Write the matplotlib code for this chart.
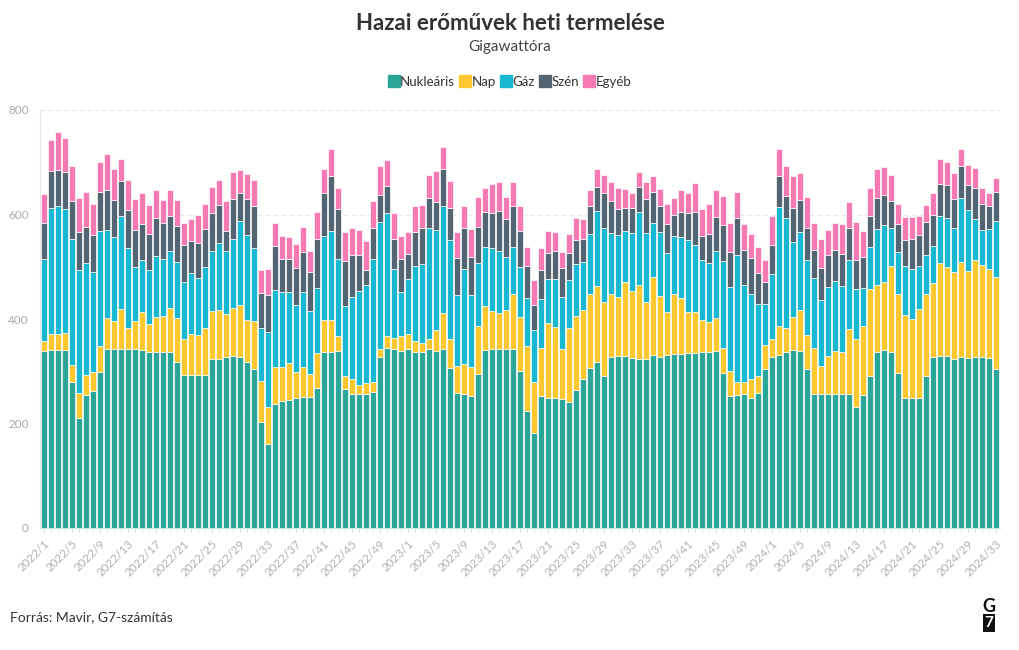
import matplotlib.pyplot as plt
from matplotlib.lines import Line2D
import numpy as np

# Heti adatok, GWh (2022/1 - 2024/33)
het = [f"2022/{w}" for w in range(1, 53)] + [f"2023/{w}" for w in range(1, 53)] + [f"2024/{w}" for w in range(1, 34)]

nuklearis = [339, 341, 341, 341, 279, 211, 255, 263, 298, 342, 342, 342, 342, 342, 340, 337, 337, 337, 336, 318,
             293, 293, 292, 292, 324, 324, 327, 330, 327, 318, 304, 202, 160, 238, 244, 245, 248, 251, 251, 268,
             337, 337, 339, 266, 256, 256, 256, 260, 328, 344, 342, 339,
             342, 336, 337, 343, 339, 342, 307, 258, 256, 253, 294, 340, 342, 342, 342, 342, 301, 223,
             182, 252, 248, 249, 246, 242, 264, 286, 307, 318, 290, 327, 329, 330, 325, 324, 324, 332, 328, 331,
             333, 333, 335, 335, 336, 337, 339, 297, 253, 255, 256, 249, 258, 304,
             328, 332, 337, 340, 339, 305, 256, 256, 256, 256, 256, 256, 231, 255, 290, 337, 341, 336, 297, 249,
             249, 248, 290, 328, 330, 329, 323, 327, 326, 327, 328, 325, 304]
nap = [18, 30, 30, 32, 33, 47, 38, 36, 51, 59, 55, 78, 40, 54, 73, 53, 66, 69, 86, 84,
       69, 78, 77, 91, 91, 94, 82, 92, 99, 81, 92, 80, 71, 70, 64, 70, 50, 58, 43, 66,
       61, 62, 28, 24, 30, 18, 21, 20, 14, 23, 21, 28,
       29, 22, 17, 19, 40, 69, 55, 53, 58, 56, 93, 84, 73, 70, 75, 105, 102, 125,
       97, 92, 145, 136, 97, 140, 141, 131, 141, 146, 142, 120, 114, 140, 128, 142, 108, 149, 116, 83,
       114, 108, 79, 78, 63, 57, 62, 47, 47, 24, 24, 37, 33, 46,
       34, 55, 46, 64, 78, 64, 88, 55, 74, 82, 80, 125, 130, 132, 167, 129, 129, 166, 151, 159,
       151, 172, 157, 140, 178, 170, 167, 183, 165, 185, 175, 170, 176]
gaz = [157, 241, 245, 238, 242, 236, 214, 191, 219, 170, 159, 178, 153, 103, 99, 103, 118, 108, 108, 108,
       108, 117, 109, 116, 115, 127, 121, 131, 161, 161, 140, 100, 144, 147, 143, 137, 128, 143, 121, 125,
       160, 169, 147, 134, 156, 180, 189, 235, 244, 236, 132, 85,
       106, 143, 152, 213, 191, 205, 189, 135, 182, 136, 121, 114, 120, 119, 102, 90, 97, 93,
       100, 95, 84, 91, 99, 92, 100, 93, 114, 142, 143, 117, 118, 98, 112, 138, 132, 103, 122, 113,
       111, 116, 137, 129, 114, 113, 130, 167, 161, 243, 185, 161, 137, 79,
       125, 227, 211, 143, 149, 143, 134, 125, 131, 135, 128, 131, 96, 72, 81, 106, 109, 73, 80, 94,
       96, 81, 75, 72, 90, 94, 84, 122, 117, 79, 67, 77, 108]
szen = [70, 71, 70, 70, 72, 73, 70, 70, 75, 76, 71, 66, 74, 71, 70, 70, 72, 70, 68, 68,
        72, 61, 67, 73, 72, 73, 39, 77, 55, 70, 80, 68, 70, 85, 64, 63, 72, 76, 74, 95,
        84, 106, 96, 87, 80, 68, 28, 60, 51, 52, 59, 63,
        47, 66, 68, 57, 54, 72, 62, 71, 79, 73, 68, 67, 68, 76, 72, 79, 69, 60,
        48, 55, 50, 55, 56, 53, 47, 44, 54, 47, 67, 61, 49, 45, 48, 48, 66, 60, 51, 54,
        41, 48, 51, 62, 45, 56, 65, 68, 67, 72, 68, 70, 60, 41,
        55, 60, 42, 66, 61, 62, 55, 61, 61, 60, 61, 62, 55, 59, 59, 59, 59, 51, 53, 50,
        58, 59, 63, 60, 61, 63, 56, 60, 49, 59, 51, 44, 56]
egyeb = [56, 60, 71, 65, 67, 65, 66, 60, 57, 68, 60, 43, 57, 60, 59, 56, 54, 44, 48, 50,
         42, 43, 55, 48, 51, 48, 56, 52, 43, 48, 50, 44, 51, 44, 43, 41, 46, 48, 41, 50,
         46, 52, 40, 56, 52, 48, 55, 51, 55, 49, 48, 44,
         43, 49, 45, 43, 59, 41, 51, 50, 41, 54, 58, 46, 55, 56, 43, 47, 47, 37,
         48, 42, 41, 35, 30, 36, 41, 38, 31, 35, 33, 38, 40, 35, 28, 29, 33, 30, 31, 40,
         33, 42, 40, 56, 53, 57, 51, 56, 55, 50, 48, 45, 50, 43,
         55, 51, 57, 61, 53, 59, 50, 57, 48, 51, 57, 49, 73, 50, 54, 57, 52, 49, 40, 44,
         41, 38, 33, 42, 47, 44, 49, 33, 38, 39, 30, 25, 25]

sorozatok = [("Nukleáris", nuklearis, "#2ba597"), ("Nap", nap, "#fdc82f"), ("Gáz", gaz, "#19b8d2"),
             ("Szén", szen, "#536573"), ("Egyéb", egyeb, "#f779b4")]

plt.rcParams['font.family'] = ['Lato', 'DejaVu Sans']

fig = plt.figure(figsize=(10.2, 6.5), dpi=100)
ax = fig.add_axes([40 / 1020, 122 / 650, 960 / 1020, 418 / 650])

x = np.arange(len(het))
alap = np.zeros(len(het))
for nev, ertek, szin in sorozatok:
    ax.bar(x, ertek, bottom=alap, width=0.82, color=szin, edgecolor='white', linewidth=0.5, zorder=3)
    alap += np.array(ertek)

ax.set_xlim(-0.6, len(het) - 0.4)
ax.set_ylim(0, 800)
ax.set_yticks([0, 200, 400, 600, 800])
ax.grid(axis='y', color='#e6e6e6', linestyle=(0, (4, 3)), linewidth=0.8, zorder=0)
ax.tick_params(axis='y', length=0, labelsize=8.5, labelcolor='#aaaaaa', pad=8)

ax.set_xticks(x[::4])
ax.set_xticklabels(het[::4], rotation=45, ha='right', rotation_mode='anchor', fontsize=8.5, color='#b0b0b0')
ax.set_xticks(x, minor=True)
ax.tick_params(axis='x', which='both', length=3, color='#dddddd', pad=4)

for s in ['top', 'right']:
    ax.spines[s].set_visible(False)
ax.spines['left'].set_color('#e8e8e8')
ax.spines['bottom'].set_color('#cde8ec')

fig.text(0.5, 1 - 24 / 650, "Hazai erőművek heti termelése", ha='center', va='center',
         fontsize=16, fontweight='bold', color='#333333')
fig.text(0.5, 1 - 47 / 650, "Gigawattóra", ha='center', va='center', fontsize=11, color='#444444')

fogantyuk = [Line2D([0], [0], marker='s', linestyle='', markersize=9, color=szin) for _, _, szin in sorozatok]
fig.legend(fogantyuk, [s[0] for s in sorozatok], loc='center', bbox_to_anchor=(0.5, 1 - 82 / 650),
           ncol=5, frameon=False, fontsize=9.5, handlelength=0.7, handletextpad=0.15, columnspacing=0.4,
           labelcolor='#333333')

fig.text(10 / 1020, 1 - 617 / 650, "Forrás: Mavir, G7-számítás", ha='left', va='center', fontsize=10, color='#333333')

# G7 logo
fig.text(989 / 1020, 1 - 606 / 650, "G", ha='center', va='center', fontsize=13, fontweight='bold', color='#111111')
fig.text(989 / 1020, 1 - 623 / 650, "7", ha='center', va='center', fontsize=11, fontweight='bold', color='white',
         bbox=dict(boxstyle='square,pad=0.12', facecolor='#111111', edgecolor='none'))

fig.savefig("out.png", dpi=100)
